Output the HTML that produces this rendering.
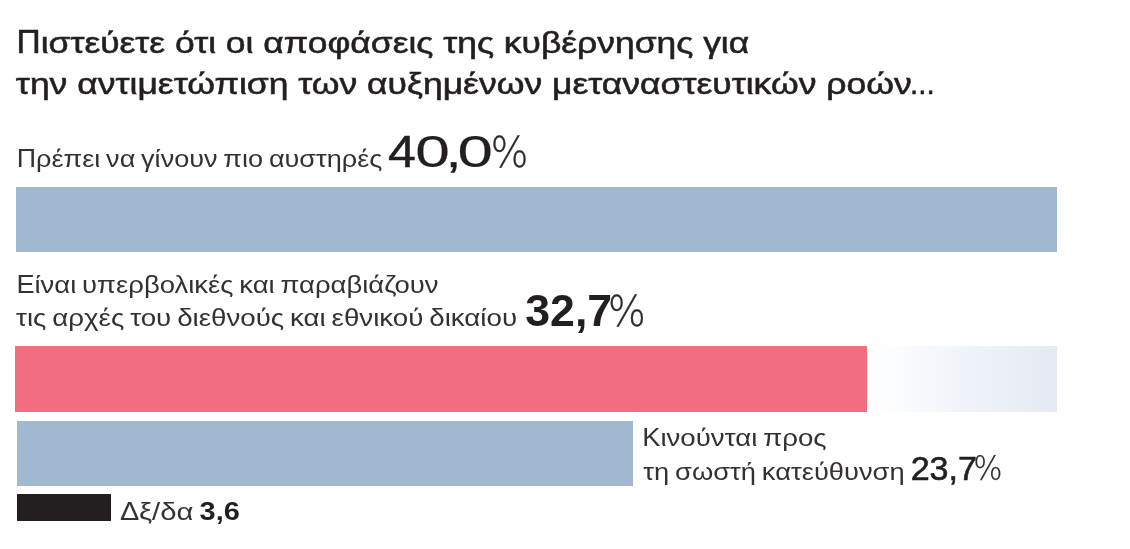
<!DOCTYPE html>
<html lang="el">
<head>
<meta charset="utf-8">
<title>Δημοσκόπηση</title>
<style>
html,body{margin:0;padding:0;background:#fff;}
body{width:1130px;height:549px;position:relative;overflow:hidden;font-family:"Liberation Sans", sans-serif;color:#231f20;}
.bar{position:absolute;}
.row{position:absolute;left:0;top:0;margin:0;white-space:nowrap;line-height:1;font-size:23px;font-weight:400;}
.row span{display:inline-block;transform-origin:0 0;}
.row span.c{line-height:0;transform-origin:0 100%;}
.ti{font-size:29.5px;-webkit-text-stroke:0.55px #231f20;color:#231f20;}
.lb{font-size:23px;color:#353132;word-spacing:-1.5px;}
.na{font-size:44px;-webkit-text-stroke:0.5px #231f20;color:#231f20;}
.nz{font-size:44px;-webkit-text-stroke:0.15px #231f20;color:#231f20;}
.nb{font-size:45px;font-weight:700;color:#231f20;}
.nc{font-size:33.8px;-webkit-text-stroke:0.6px #231f20;color:#231f20;}
.nd{font-size:25px;font-weight:700;color:#231f20;}
.pa{font-size:42px;font-weight:200;font-family:'DejaVu Sans','Liberation Sans',sans-serif;-webkit-text-stroke:0.3px #2e2a2b;color:#2e2a2b;}
.pb{font-size:33.5px;font-weight:200;font-family:'DejaVu Sans','Liberation Sans',sans-serif;-webkit-text-stroke:0.25px #2e2a2b;color:#2e2a2b;}
#b1{left:16px;top:187.4px;width:1041px;height:65.1px;background:#a1b9d0;}
#b2{left:15px;top:346px;width:852px;height:65.6px;background:#f06e80;}
#b2g{left:867px;top:346px;width:190px;height:66px;background:linear-gradient(to right,#ffffff 0%,#fcfdfe 12%,#f0f4fa 50%,#e5eaf2 100%);}
#b3{left:16.5px;top:421px;width:616px;height:64.5px;background:#a1b9d0;}
#b4{left:16.5px;top:493.5px;width:94px;height:27.3px;background:#231f20;}
</style>
</head>
<body>
<div class="bar" id="b1"></div>
<div class="bar" id="b2"></div>
<div class="bar" id="b2g"></div>
<div class="bar" id="b3"></div>
<div class="bar" id="b4"></div>
<h1 class="row" id="r0" style="top:28px"><span class="ti" id="t1" style="transform:translateX(16.44px) scaleX(1.2007)"><span class="c" style="font-size:1.1em;transform:scaleX(0.86);margin-right:-0.101em">Π</span>ιστεύετε ότι οι αποφάσεις της κυβέρνησης για</span></h1>
<h1 class="row" id="r1" style="top:69px"><span class="ti" id="t2" style="transform:translateX(15.86px) scaleX(1.2031)">την αντιμετώπιση των αυξημένων μεταναστευτικών ροών</span><span class="ti" id="t2d" style="transform:translateX(165.12px) scaleX(1.0022)">...</span></h1>
<p class="row" id="r2" style="top:130px"><span class="lb" id="l1" style="transform:translateX(16.71px) scaleX(1.1778)"><span class="c" style="font-size:1.15em;transform:scaleX(0.86);margin-right:-0.101em">Π</span>ρέπει να γίνουν πιο αυστηρές</span> <span class="na" id="n1a" style="transform:translateX(70.96px) scaleX(1.1371)">4</span><span class="nz" id="n1b" style="transform:translateX(74.15px) scaleX(1.4145)">0</span><span class="na" id="n1c" style="transform:translateX(80.01px) scaleX(1.2353)">,</span><span class="nz" id="n1d" style="transform:translateX(79.58px) scaleX(1.4476)">0</span><span class="pa" id="p1" style="transform:translateX(87.58px) scaleX(0.9527)">%</span></p>
<p class="row" id="r3" style="top:274px"><span class="lb" id="l2a" style="transform:translateX(16.58px) scaleX(1.1938)"><span class="c" style="font-size:1.15em;transform:scaleX(0.86);margin-right:-0.101em">Ε</span>ίναι υπερβολικές και παραβιάζουν</span></p>
<p class="row" id="r4" style="top:288px"><span class="lb" id="l2b" style="transform:translateX(16.01px) scaleX(1.2037)">τις αρχές του διεθνούς και εθνικού δικαίου</span> <span class="nb" id="n2" style="transform:translateX(102.29px) scaleX(0.9918)">32,7</span><span class="pa" id="p2" style="transform:translateX(97.82px) scaleX(0.9556)">%</span></p>
<p class="row" id="r5" style="top:427px"><span class="lb" id="l3a" style="transform:translateX(642.37px) scaleX(1.2016)"><span class="c" style="font-size:1.15em;transform:scaleX(0.86);margin-right:-0.101em">Κ</span>ινούνται προς</span></p>
<p class="row" id="r6" style="top:452px"><span class="lb" id="l3b" style="transform:translateX(643.31px) scaleX(1.1869)">τη σωστή κατεύθυνση</span> <span class="nc" id="n3" style="transform:translateX(683.63px) scaleX(1.0088)">23,7</span><span class="pb" id="p3" style="transform:translateX(681.17px) scaleX(0.9222)">%</span></p>
<p class="row" id="r7" style="top:499px"><span class="lb" id="l4" style="transform:translateX(119.91px) scaleX(1.2715)"><span class="c" style="font-size:1.15em;transform:scaleX(0.86);margin-right:-0.101em">Δ</span>ξ/δα</span> <span class="nd" id="n4" style="transform:translateX(135.59px) scaleX(1.1561)">3,6</span></p>
</body>
</html>
